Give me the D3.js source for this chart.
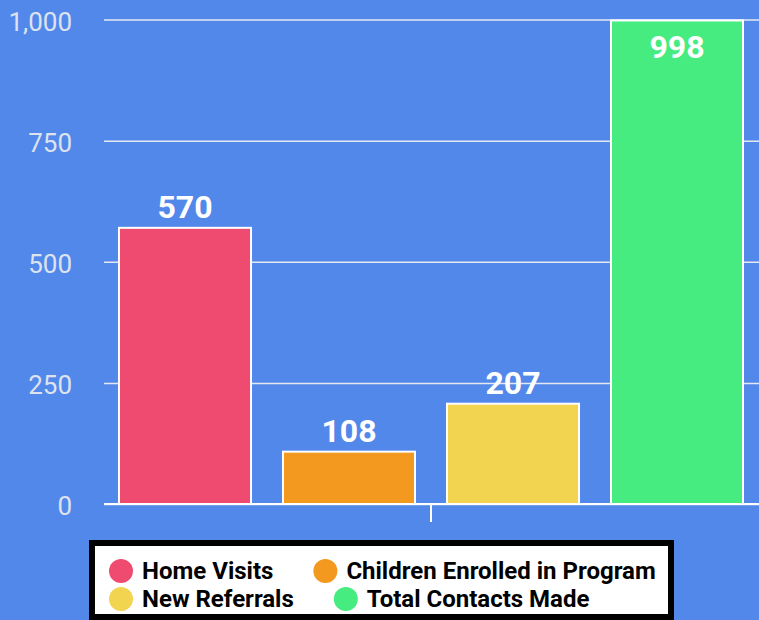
<!DOCTYPE html>
<html>
<head>
<meta charset="utf-8">
<script src="https://cdn.jsdelivr.net/npm/d3@7"></script>
<style>
  html, body { margin: 0; padding: 0; background: #5388eb; overflow: hidden; }
  svg { display: block; font-family: Roboto, sans-serif; }
</style>
</head>
<body>
<div id="chart"></div>
<script>
// Chart data
var seriesNames = ['Home Visits', 'Children Enrolled in Program', 'New Referrals', 'Total Contacts Made'];
var seriesValues = [570, 108, 207, 998];
var seriesColors = ['#ef4a6f', '#f4991f', '#f3d451', '#46ec7f'];
var yTicks = [0, 250, 500, 750, 1000];

var svgWidth = 759;
var svgHeight = 620;

var svg = d3.select('#chart')
    .append('svg')
    .attr('width', svgWidth)
    .attr('height', svgHeight);

svg.append('rect')
    .attr('width', svgWidth)
    .attr('height', svgHeight)
    .attr('fill', '#5388eb');

// scales
var yScale = d3.scaleLinear()
    .domain([0, 1000])
    .range([504, 19.5]);

var xScale = d3.scaleBand()
    .domain(seriesNames)
    .range([103, 759])
    .paddingInner(0.195)
    .paddingOuter(0.0975);

// gridlines + y labels
var yAxis = d3.axisLeft(yScale)
    .tickValues(yTicks)
    .tickSize(-(759 - 104))
    .tickPadding(32)
    .tickFormat(d3.format(','));

var yAxisG = svg.append('g')
    .attr('transform', 'translate(104,0)')
    .call(yAxis);

yAxisG.select('.domain').remove();
yAxisG.selectAll('.tick line')
    .attr('stroke', '#e4e8f0')
    .attr('stroke-width', 1.5);
yAxisG.selectAll('.tick text')
    .attr('fill', '#dde3ee')
    .attr('font-size', 26)
    .attr('dy', '0.42em')
    .attr('font-family', 'Roboto, sans-serif');

// baseline with a single category tick
svg.append('line')
    .attr('x1', 104).attr('x2', 759)
    .attr('y1', yScale(0)).attr('y2', yScale(0))
    .attr('stroke', '#fff')
    .attr('stroke-width', 2);

svg.append('line')
    .attr('x1', 431).attr('x2', 431)
    .attr('y1', yScale(0)).attr('y2', yScale(0) + 18)
    .attr('stroke', '#fff')
    .attr('stroke-width', 2);

// bars
svg.selectAll('.bar')
    .data(seriesValues)
    .enter()
    .append('rect')
    .attr('class', 'bar')
    .attr('x', (d, i) => xScale(seriesNames[i]))
    .attr('y', d => yScale(d))
    .attr('width', xScale.bandwidth())
    .attr('height', d => yScale(0) - yScale(d))
    .attr('fill', (d, i) => seriesColors[i])
    .attr('stroke', '#fff')
    .attr('stroke-width', 2);

// value labels
svg.selectAll('.val')
    .data(seriesValues)
    .enter()
    .append('text')
    .attr('class', 'val')
    .attr('x', (d, i) => xScale(seriesNames[i]) + xScale.bandwidth() / 2)
    .attr('y', d => {
        var top = yScale(d);
        return top - 11 < 45 ? top + 38 : top - 10;
    })
    .attr('text-anchor', 'middle')
    .attr('fill', '#fff')
    .attr('font-weight', 'bold')
    .attr('font-size', 32)
    .text(d => d);

// legend box
svg.append('rect')
    .attr('x', 92)
    .attr('y', 543)
    .attr('width', 579)
    .attr('height', 74)
    .attr('fill', '#fff')
    .attr('stroke', '#000')
    .attr('stroke-width', 6);

var rows = [[0, 1], [2, 3]];
var rowBaselines = [579, 607];
rows.forEach(function(row, r) {
    var cursor = 109;
    row.forEach(function(i) {
        var cy = rowBaselines[r] - 8;
        svg.append('circle')
            .attr('cx', cursor + 12)
            .attr('cy', cy)
            .attr('r', 12)
            .attr('fill', seriesColors[i]);
        var t = svg.append('text')
            .attr('x', cursor + 33)
            .attr('y', rowBaselines[r])
            .attr('font-weight', 'bold')
            .attr('font-size', 24)
            .attr('fill', '#000')
            .text(seriesNames[i]);
        cursor += 33 + t.node().getComputedTextLength() + 40;
    });
});
</script>
</body>
</html>
